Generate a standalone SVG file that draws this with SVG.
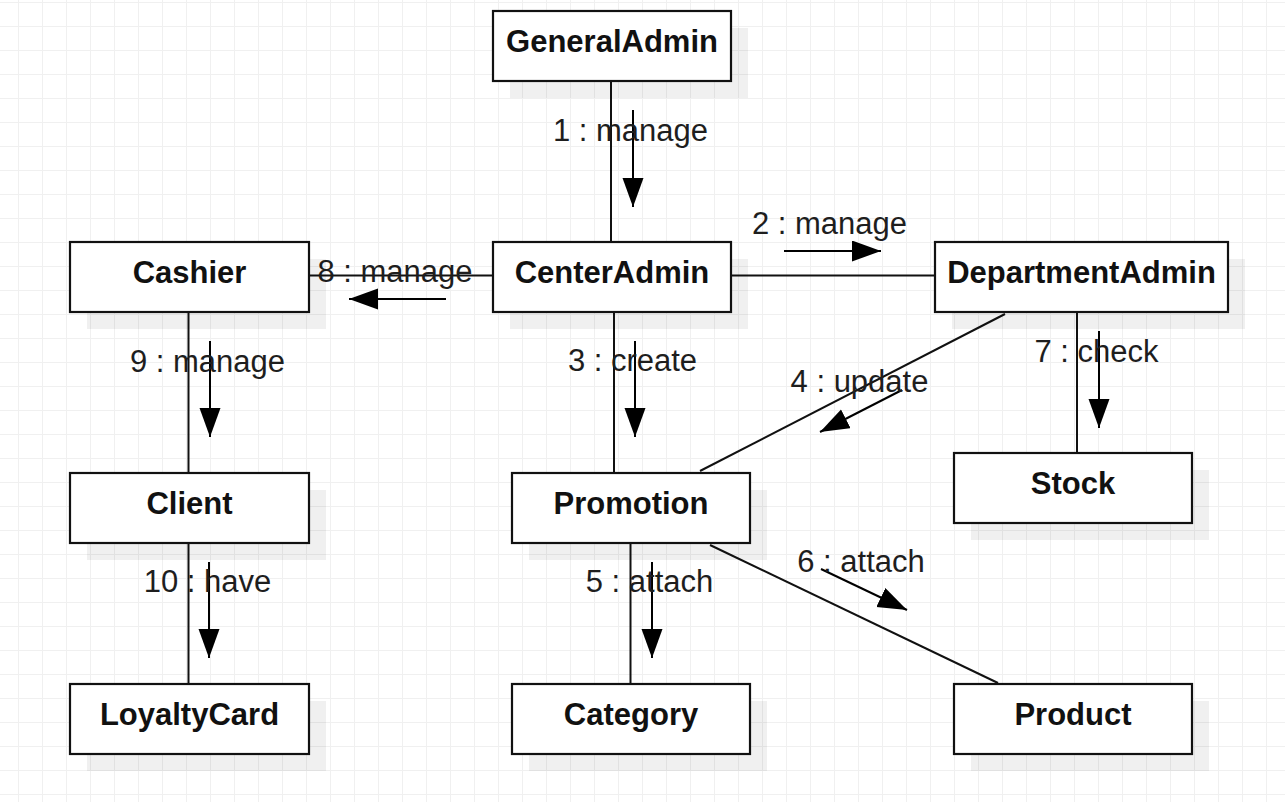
<svg xmlns="http://www.w3.org/2000/svg" width="1285" height="802" viewBox="0 0 1285 802">
<defs>
<pattern id="grid" patternUnits="userSpaceOnUse" x="18" y="2" width="24" height="24">
<rect x="0" y="0" width="1" height="24" fill="#f0f0f0"/>
<rect x="0" y="0" width="24" height="1" fill="#f0f0f0"/>
</pattern>
<marker id="ah" markerUnits="userSpaceOnUse" markerWidth="30" markerHeight="22" refX="29" refY="10.5" orient="auto">
<path d="M0,0 L29,10.5 L0,21 z" fill="#000"/>
</marker>
</defs>
<style>
.shadow{fill:#000;fill-opacity:0.06;stroke:none}
.box{fill:#fff;stroke:#111;stroke-width:2.2}
.name{font-family:"Liberation Sans",Arial,sans-serif;font-weight:bold;font-size:31px;fill:#111;text-anchor:middle}
.conn{stroke:#111;stroke-width:2;fill:none}
.msg{stroke:#000;stroke-width:2;fill:none;marker-end:url(#ah)}
.lbl{font-family:"Liberation Sans",Arial,sans-serif;font-size:31px;fill:#1e1e1e;text-anchor:middle}
</style>
<rect width="1285" height="802" fill="#fff"/>
<rect width="1285" height="802" fill="url(#grid)"/>

<g id="connectors">
<line class="conn" x1="611" y1="81" x2="611" y2="242"/>
<line class="conn" x1="731" y1="275.5" x2="935" y2="275.5"/>
<line class="conn" x1="309" y1="275.5" x2="493" y2="275.5"/>
<line class="conn" x1="614" y1="312" x2="614" y2="473"/>
<line class="conn" x1="1077" y1="312" x2="1077" y2="453"/>
<line class="conn" x1="1005" y1="314" x2="700" y2="471"/>
<line class="conn" x1="188.5" y1="312" x2="188.5" y2="473"/>
<line class="conn" x1="188.5" y1="543" x2="188.5" y2="684"/>
<line class="conn" x1="630.5" y1="543" x2="630.5" y2="684"/>
<line class="conn" x1="710" y1="545" x2="998" y2="683"/>

<line class="msg" x1="633" y1="110" x2="633" y2="207"/>
<line class="msg" x1="784" y1="251" x2="881" y2="251"/>
<line class="msg" x1="446" y1="299" x2="349" y2="299"/>
<line class="msg" x1="635" y1="341" x2="635" y2="437"/>
<line class="msg" x1="210" y1="341" x2="210" y2="437"/>
<line class="msg" x1="1099" y1="331" x2="1099" y2="428"/>
<line class="msg" x1="902" y1="390" x2="820" y2="432"/>
<line class="msg" x1="209" y1="562" x2="209" y2="658"/>
<line class="msg" x1="652" y1="562" x2="652" y2="658"/>
<line class="msg" x1="821" y1="569" x2="907" y2="610"/>

<text class="lbl" x="630.5" y="141">1 : manage</text>
<text class="lbl" x="829.5" y="234">2 : manage</text>
<text class="lbl" x="395" y="282">8 : manage</text>
<text class="lbl" x="632.5" y="371">3 : create</text>
<text class="lbl" x="207.5" y="372">9 : manage</text>
<text class="lbl" x="859.5" y="392">4 : update</text>
<text class="lbl" x="1096.5" y="362">7 : check</text>
<text class="lbl" x="207.5" y="592">10 : have</text>
<text class="lbl" x="649.5" y="592">5 : attach</text>
<text class="lbl" x="861" y="572">6 : attach</text>
</g>

<g id="GeneralAdmin">
<rect class="shadow" x="510" y="28" width="238" height="70"/>
<rect class="box" x="493" y="11" width="238" height="70"/>
<text class="name" x="612" y="52">GeneralAdmin</text>
</g>
<g id="CenterAdmin">
<rect class="shadow" x="510" y="259" width="238" height="70"/>
<rect class="box" x="493" y="242" width="238" height="70"/>
<text class="name" x="612" y="283">CenterAdmin</text>
</g>
<g id="Cashier">
<rect class="shadow" x="87" y="259" width="239" height="70"/>
<rect class="box" x="70" y="242" width="239" height="70"/>
<text class="name" x="189.5" y="283">Cashier</text>
</g>
<g id="DepartmentAdmin">
<rect class="shadow" x="952" y="259" width="293" height="70"/>
<rect class="box" x="935" y="242" width="293" height="70"/>
<text class="name" x="1081.5" y="283">DepartmentAdmin</text>
</g>
<g id="Client">
<rect class="shadow" x="87" y="490" width="239" height="70"/>
<rect class="box" x="70" y="473" width="239" height="70"/>
<text class="name" x="189.5" y="514">Client</text>
</g>
<g id="Promotion">
<rect class="shadow" x="529" y="490" width="238" height="70"/>
<rect class="box" x="512" y="473" width="238" height="70"/>
<text class="name" x="631" y="514">Promotion</text>
</g>
<g id="Stock">
<rect class="shadow" x="971" y="470" width="238" height="70"/>
<rect class="box" x="954" y="453" width="238" height="70"/>
<text class="name" x="1073" y="494">Stock</text>
</g>
<g id="LoyaltyCard">
<rect class="shadow" x="87" y="701" width="239" height="70"/>
<rect class="box" x="70" y="684" width="239" height="70"/>
<text class="name" x="189.5" y="725">LoyaltyCard</text>
</g>
<g id="Category">
<rect class="shadow" x="529" y="701" width="238" height="70"/>
<rect class="box" x="512" y="684" width="238" height="70"/>
<text class="name" x="631" y="725">Category</text>
</g>
<g id="Product">
<rect class="shadow" x="971" y="701" width="238" height="70"/>
<rect class="box" x="954" y="684" width="238" height="70"/>
<text class="name" x="1073" y="725">Product</text>
</g>
</svg>
